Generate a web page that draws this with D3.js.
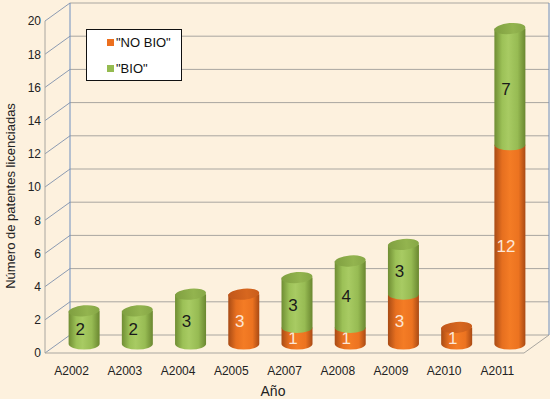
<!DOCTYPE html>
<html>
<head>
<meta charset="utf-8">
<script src="https://cdn.jsdelivr.net/npm/d3@7"></script>
<style>
  body { margin: 0; background: #fdf1de; }
  svg { display: block; font-family: "Liberation Sans", Arial, sans-serif; }
</style>
</head>
<body>
<div class="chart"></div>
<script>
// values
var categories = ["A2002", "A2003", "A2004", "A2005", "A2007", "A2008", "A2009", "A2010", "A2011"];
var noBio = [0, 0, 0, 3, 1, 1, 3, 1, 12];
var bio = [2, 2, 3, 0, 3, 4, 3, 0, 7];
var yTicks = [0, 2, 4, 6, 8, 10, 12, 14, 16, 18, 20];
var seriesNames = ['"NO BIO"', '"BIO"'];

var w = 550, h = 399;
var depthX = 25, depthY = -18;

var svg = d3.select(".chart").append("svg")
  .attr("width", w).attr("height", h);

svg.append("rect").attr("width", w).attr("height", h).attr("fill", "#fdf1de");

var x = d3.scaleBand().domain(categories).range([45, 524]);
var yFront = d3.scaleLinear().domain([0, 20]).range([353, 21]);
var yMid = yFront.copy().range([353 + depthY / 2, 21 + depthY / 2]);
var yBack = yFront.copy().range([353 + depthY, 21 + depthY]);
var xBackL = 45 + depthX, xBackR = 524 + depthX;

// gradients
var defs = svg.append("defs");
function grad(id, stops) {
  var g = defs.append("linearGradient").attr("id", id)
    .attr("x1", "0%").attr("x2", "100%").attr("y1", "0%").attr("y2", "0%");
  stops.forEach(function(s) {
    g.append("stop").attr("offset", s[0]).attr("stop-color", s[1]);
  });
}
grad("gGreen", [["0%", "#6f8d33"], ["25%", "#9cc157"], ["45%", "#a8cb63"], ["75%", "#97bb53"], ["100%", "#6a8730"]]);
grad("gOrange", [["0%", "#a84b15"], ["25%", "#e66f1f"], ["50%", "#f47c25"], ["78%", "#ec7320"], ["100%", "#a94a14"]]);
grad("gGreenTop", [["0%", "#7f9f40"], ["60%", "#93b44f"], ["100%", "#86a746"]]);
grad("gOrangeTop", [["0%", "#c0561a"], ["60%", "#d7671f"], ["100%", "#c95d1b"]]);

// back wall gridlines
svg.append("g").selectAll("line").data(yTicks).enter().append("line")
  .attr("x1", xBackL).attr("x2", xBackR)
  .attr("y1", function(d) { return yBack(d); })
  .attr("y2", function(d) { return yBack(d); })
  .attr("stroke", "#a9a6a0").attr("stroke-width", 1);

// left wall diagonals
svg.append("g").selectAll("line").data(yTicks).enter().append("line")
  .attr("x1", 45).attr("x2", xBackL)
  .attr("y1", function(d) { return yFront(d); })
  .attr("y2", function(d) { return yBack(d); })
  .attr("stroke", "#8c9bb2").attr("stroke-width", 1);

// wall edges
svg.append("line").attr("x1", xBackL).attr("x2", xBackL)
  .attr("y1", yBack(20)).attr("y2", yBack(0)).attr("stroke", "#6f8fbf");
svg.append("line").attr("x1", xBackR).attr("x2", xBackR)
  .attr("y1", yBack(20)).attr("y2", yBack(0)).attr("stroke", "#6f8fbf");
svg.append("line").attr("x1", 45).attr("x2", 45)
  .attr("y1", yFront(20)).attr("y2", yFront(0)).attr("stroke", "#a9a6a0");

// floor
svg.append("path")
  .attr("d", "M45," + yFront(0) + "L524," + yFront(0) + "L" + xBackR + "," + yBack(0))
  .attr("fill", "none").attr("stroke", "#a9a6a0");

// legend
var legend = svg.append("g");
legend.append("rect").attr("x", 86.5).attr("y", 29.5).attr("width", 95).attr("height", 51)
  .attr("fill", "#fff").attr("stroke", "#111");
var legendFill = ["#ec6f1e", "#95bb50"];
seriesNames.forEach(function(name, i) {
  legend.append("rect").attr("x", 107).attr("y", 39 + i * 26).attr("width", 7).attr("height", 7)
    .attr("fill", legendFill[i]);
  legend.append("text").attr("x", 116).attr("y", 47 + i * 26)
    .attr("font-size", 13).attr("fill", "#111").text(name);
});

// stacked cylinders
var rows = categories.map(function(c, i) { return { cat: c, noBio: noBio[i], bio: bio[i] }; });
var stack = d3.stack().keys(["noBio", "bio"])(rows);
var rw = 15.5, ry = 5.5;
var fills = { noBio: "url(#gOrange)", bio: "url(#gGreen)" };
var tops = { noBio: "url(#gOrangeTop)", bio: "url(#gGreenTop)" };
var textCol = { noBio: "#fde6d6", bio: "#1a1a1a" };

var bars = svg.append("g");
rows.forEach(function(r, i) {
  var cx = x(r.cat) + x.bandwidth() / 2 + depthX / 2;
  var segs = stack.map(function(s) { return { key: s.key, y0: s[i][0], y1: s[i][1] }; })
    .filter(function(s) { return s.y1 > s.y0; });
  var g = bars.append("g");
  segs.forEach(function(s, k) {
    var yt = yMid(s.y1), yb = yMid(s.y0);
    g.append("path")
      .attr("d", "M" + (cx - rw) + "," + yt + "L" + (cx - rw) + "," + yb +
        "A" + rw + "," + ry + " 0 0 0 " + (cx + rw) + "," + yb +
        "L" + (cx + rw) + "," + yt + "Z")
      .attr("fill", fills[s.key]);
    if (k === segs.length - 1) {
      g.append("ellipse").attr("cx", cx).attr("cy", yt).attr("rx", rw).attr("ry", ry)
        .attr("transform", "rotate(-5," + cx + "," + yt + ")")
        .attr("fill", tops[s.key]);
    }
    g.append("text").attr("x", cx - 4).attr("y", (yt + yb) / 2 + 8)
      .attr("text-anchor", "middle").attr("font-size", 17)
      .attr("fill", textCol[s.key]).text(s.y1 - s.y0);
  });
});

// axes
var yAxis = svg.append("g").attr("transform", "translate(41,0)")
  .call(d3.axisLeft(yFront).tickValues(yTicks).tickSize(0).tickPadding(0));
yAxis.select(".domain").remove();
yAxis.selectAll("text").attr("font-size", 12).attr("fill", "#222")
  .attr("font-family", "Liberation Sans, Arial, sans-serif");

var xAxis = svg.append("g").attr("transform", "translate(0," + yFront(0) + ")")
  .call(d3.axisBottom(x).tickSize(0).tickPadding(13));
xAxis.select(".domain").remove();
xAxis.selectAll("text").attr("font-size", 12).attr("fill", "#222")
  .attr("font-family", "Liberation Sans, Arial, sans-serif");

svg.append("text").attr("x", 273).attr("y", 396).attr("text-anchor", "middle")
  .attr("font-size", 14).attr("fill", "#222").text("Año");
svg.append("text").attr("transform", "translate(15,196) rotate(-90)")
  .attr("text-anchor", "middle").attr("font-size", 13).attr("fill", "#222")
  .text("Número de patentes licenciadas");
</script>
</body>
</html>
